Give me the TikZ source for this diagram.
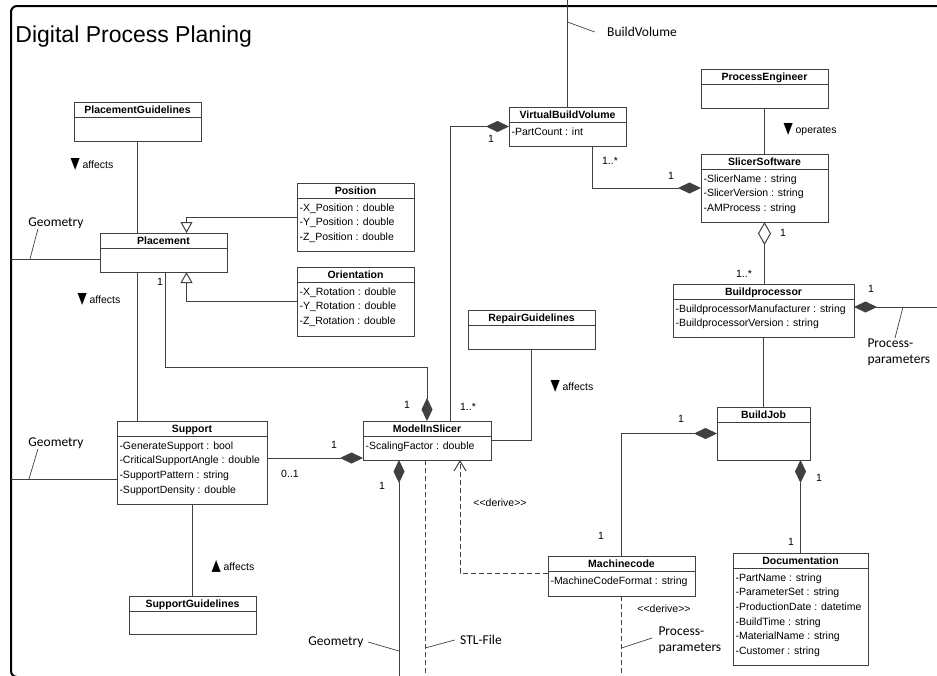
\documentclass[tikz,border=0pt]{standalone}
\usepackage{fontspec}
\setmainfont{Liberation Sans}
\newfontfamily\calfont{Carlito}
\newfontfamily\trifont{DejaVu Sans}
\usepackage{tikz}
\usetikzlibrary{arrows.meta,calc,positioning}
\newcommand{\dntri}{{\trifont\fontsize{12}{12}\selectfont\scalebox{1}[1.3]{▼}}}
\newcommand{\uptri}{{\trifont\fontsize{12}{12}\selectfont\scalebox{1}[1.3]{▲}}}

\begin{document}
\begin{tikzpicture}[x=1pt,y=-1pt,line width=1pt,
        classbox/.style={draw=black!75,anchor=north west,inner sep=0pt,outer sep=0pt},
        classtitle/.style={anchor=base,inner sep=0pt,font=\bfseries\fontsize{10.5}{12}\selectfont},
        attr/.style={anchor=base west,inner sep=0pt,font=\fontsize{10.5}{12}\selectfont},
        mult/.style={inner sep=0pt,font=\fontsize{10.5}{12}\selectfont},
        note/.style={anchor=west,inner sep=0pt,font=\fontsize{10.5}{12}\selectfont},
        geo/.style={inner sep=0pt,font=\calfont\fontsize{13.5}{16}\selectfont,align=left},
        conn/.style={draw=black!75},
        leader/.style={draw=black!75,line width=0.7pt},
        comp/.style={conn,{Diamond[length=23pt,width=11pt]}-},
        agg/.style={conn,{Diamond[open,length=23pt,width=13pt]}-},
        gen/.style={conn,-{Triangle[open,length=11pt,width=12pt]}},
        flow/.style={conn,dash pattern=on 5pt off 3pt},
        derive/.style={flow,-{Straight Barb[length=10pt,width=12pt]}}]
        \useasboundingbox (0,0) rectangle (937,675);
        \clip (0,0) rectangle (937,675);
        \draw[line width=2pt,rounded corners=6pt] (11,6) rectangle (960,677); % Frame
        \node[anchor=base west,inner sep=0pt,font=\fontsize{23}{28}\selectfont] (title) at (15,42) {Digital Process Planing};
        % Classes
        \foreach \n/\x/\y/\w/\h/\t/\attrs in {
            plg/74/102/127/39/PlacementGuidelines/{},
            plc/100/233/127/39/Placement/{},
            pos/297/183/117/68/Position/{-X\_Position : double, -Y\_Position : double, -Z\_Position : double},
            ori/297/267/117/69/Orientation/{-X\_Rotation : double, -Y\_Rotation : double, -Z\_Rotation : double},
            sup/117/421/150/83/Support/{-GenerateSupport : bool, -CriticalSupportAngle : double, -SupportPattern : string, -SupportDensity : double},
            spg/129/596/127/38/SupportGuidelines/{},
            mis/363/421/128/39/ModelInSlicer/{-ScalingFactor : double},
            rpg/468/310/127/39/RepairGuidelines/{},
            vbv/509/107/117/39/VirtualBuildVolume/{-PartCount : int},
            pen/701/69/127/39/ProcessEngineer/{},
            sls/701/154/127/68/SlicerSoftware/{-SlicerName : string, -SlicerVersion : string, -AMProcess : string},
            bpr/673/284/181/53/Buildprocessor/{-BuildprocessorManufacturer : string, -BuildprocessorVersion : string},
            bjb/717/407/93/53/BuildJob/{},
            mcd/548/556/147/40/Machinecode/{-MachineCodeFormat : string},
            doc/733/553/135/112/Documentation/{-PartName : string, -ParameterSet : string, -ProductionDate : datetime, -BuildTime : string, -MaterialName : string, -Customer : string}} {
            \node[classbox,minimum width=\w*1pt,minimum height=\h*1pt] (\n) at (\x,\y) {};
            \draw[conn] ([yshift=-15pt]\n.north west) -- ([yshift=-15pt]\n.north east);
            \node[classtitle] (\n-title) at ([yshift=-11.5pt]\n.north) {\t};
            \foreach \a [count=\i] in \attrs {
                \node[attr] (\n-a\i) at ([xshift=2pt,yshift={-28pt-(\i-1)*14.7pt}]\n.north west) {\a};
            }
        }
        % Edge points
        \coordinate (top) at (0,-5);
        \coordinate (bottom) at (0,680);
        \coordinate (rightedge) at (945,307);
        \coordinate (leftedge1) at (11,259);
        \coordinate (leftedge2) at (11,479);
        \coordinate (bvknee) at (0,22);
        \coordinate (lead3) at (0,651);
        \coordinate (lead4) at (0,648);
        % Placement side
        \draw[conn] (plg.south) -- (plg.south |- plc.north);
        \draw[conn] (plg.south |- plc.south) -- (plg.south |- sup.north);
        \draw[gen] (pos.west) -| ([xshift=23pt]plc.north);
        \draw[gen] (ori.west) -| ([xshift=23pt]plc.south);
        \draw[comp] (mis.north) -- ++(0,-54) -| ([xshift=2pt]plc.south);
        \draw[conn] (leftedge1) -- (leftedge1 -| plc.west);
        \draw[conn] (leftedge2) -- (leftedge2 -| sup.west);
        \coordinate (misin) at ([yshift=2pt]mis.south west);
        \draw[comp] (misin) -- (misin -| sup.east);
        \draw[conn] (sup.south) -- (sup.south |- spg.north);
        \draw[conn] (rpg.south) |- (mis.east);
        % Slicer side
        \draw[comp] (vbv.west) -| ([xshift=23pt]mis.north);
        \draw[conn] (vbv.north) -- (vbv.north |- top);
        \draw[comp] (sls.west) -| ([xshift=24.5pt]vbv.south);
        \draw[conn] (pen.south) -- (pen.south |- sls.north);
        \draw[agg] (sls.south) -- (sls.south |- bpr.north);
        \draw[comp] (bpr.east |- rightedge) -- (rightedge);
        \draw[conn] (bpr.south) -- (bpr.south |- bjb.north);
        \draw[comp] (bjb.west) -| (mcd.north);
        \draw[comp] (bjb.south -| doc.north) -- (doc.north);
        % Outputs at the bottom
        \draw[comp] ([xshift=-28pt]mis.south) -- ([xshift=-28pt]mis.south |- bottom);
        \draw[flow] ([xshift=-2pt]mis.south) -- ([xshift=-2pt]mis.south |- bottom);
        \draw[derive] ([yshift=3pt]mcd.west) -| ([xshift=33pt]mis.south);
        \draw[flow] (mcd.south) -- (mcd.south |- bottom);
        % Multiplicities
        \foreach \x/\y/\m [count=\i] in {160/282/1, 407/405/1, 491/139/1, 468/407/1..*, 610/161/1..*, 671/176/1,
            783/233/1, 744/274/1..*, 871/289/1, 681/419/1, 601/536/1, 819/478/1, 791/542/1,
            334/445/1, 290/474/0..1, 382/486/1} {
            \node[mult] (m\i) at (\x,\y) {\m};
        }
        % Association names
        \node[note] (aff1) at (70,164) {\dntri{} affects};
        \node[note] (aff2) at (77,299) {\dntri{} affects};
        \node[note] (aff3) at (550,386) {\dntri{} affects};
        \node[note] (aff4) at (211,566) {\uptri{} affects};
        \node[note] (oper) at (783,130) {\dntri{} operates};
        \node[mult] (der1) at (500,503) {<{}<derive>{}>};
        \node[mult] (der2) at (664,609) {<{}<derive>{}>};
        % Flow labels
        \node[geo] (geo1) at (56,223) {Geometry};
        \draw[leader] ($(leftedge1)+(19,0)$) -- ([xshift=10pt]geo1.south west);
        \node[geo] (geo2) at (56,443) {Geometry};
        \draw[leader] ($(leftedge2)+(18,0)$) -- ([xshift=10pt]geo2.south west);
        \node[geo] (bvol) at (642,32) {BuildVolume};
        \draw[leader] (vbv.north |- bvknee) -- ([xshift=-12pt]bvol.west);
        \node[geo,anchor=north west] (pp1) at (867,338) {Process-\\parameters};
        \draw[leader] ($(bpr.east |- rightedge)+(49,0)$) -- ([xshift=28pt]pp1.north west);
        \node[geo] (geo3) at (336,642) {Geometry};
        \draw[leader] ([xshift=-28pt]mis.south |- lead3) -- ([xshift=4pt]geo3.east);
        \node[geo] (stl) at (481,640) {STL-File};
        \draw[leader] ([xshift=-2pt]mis.south |- lead4) -- ([xshift=-5pt]stl.west);
        \node[geo,anchor=north west] (pp2) at (658,626) {Process-\\parameters};
        \draw[leader] (mcd.south |- lead4) -- ([xshift=-6pt,yshift=-12pt]pp2.north west);
    \end{tikzpicture}
\end{document}
